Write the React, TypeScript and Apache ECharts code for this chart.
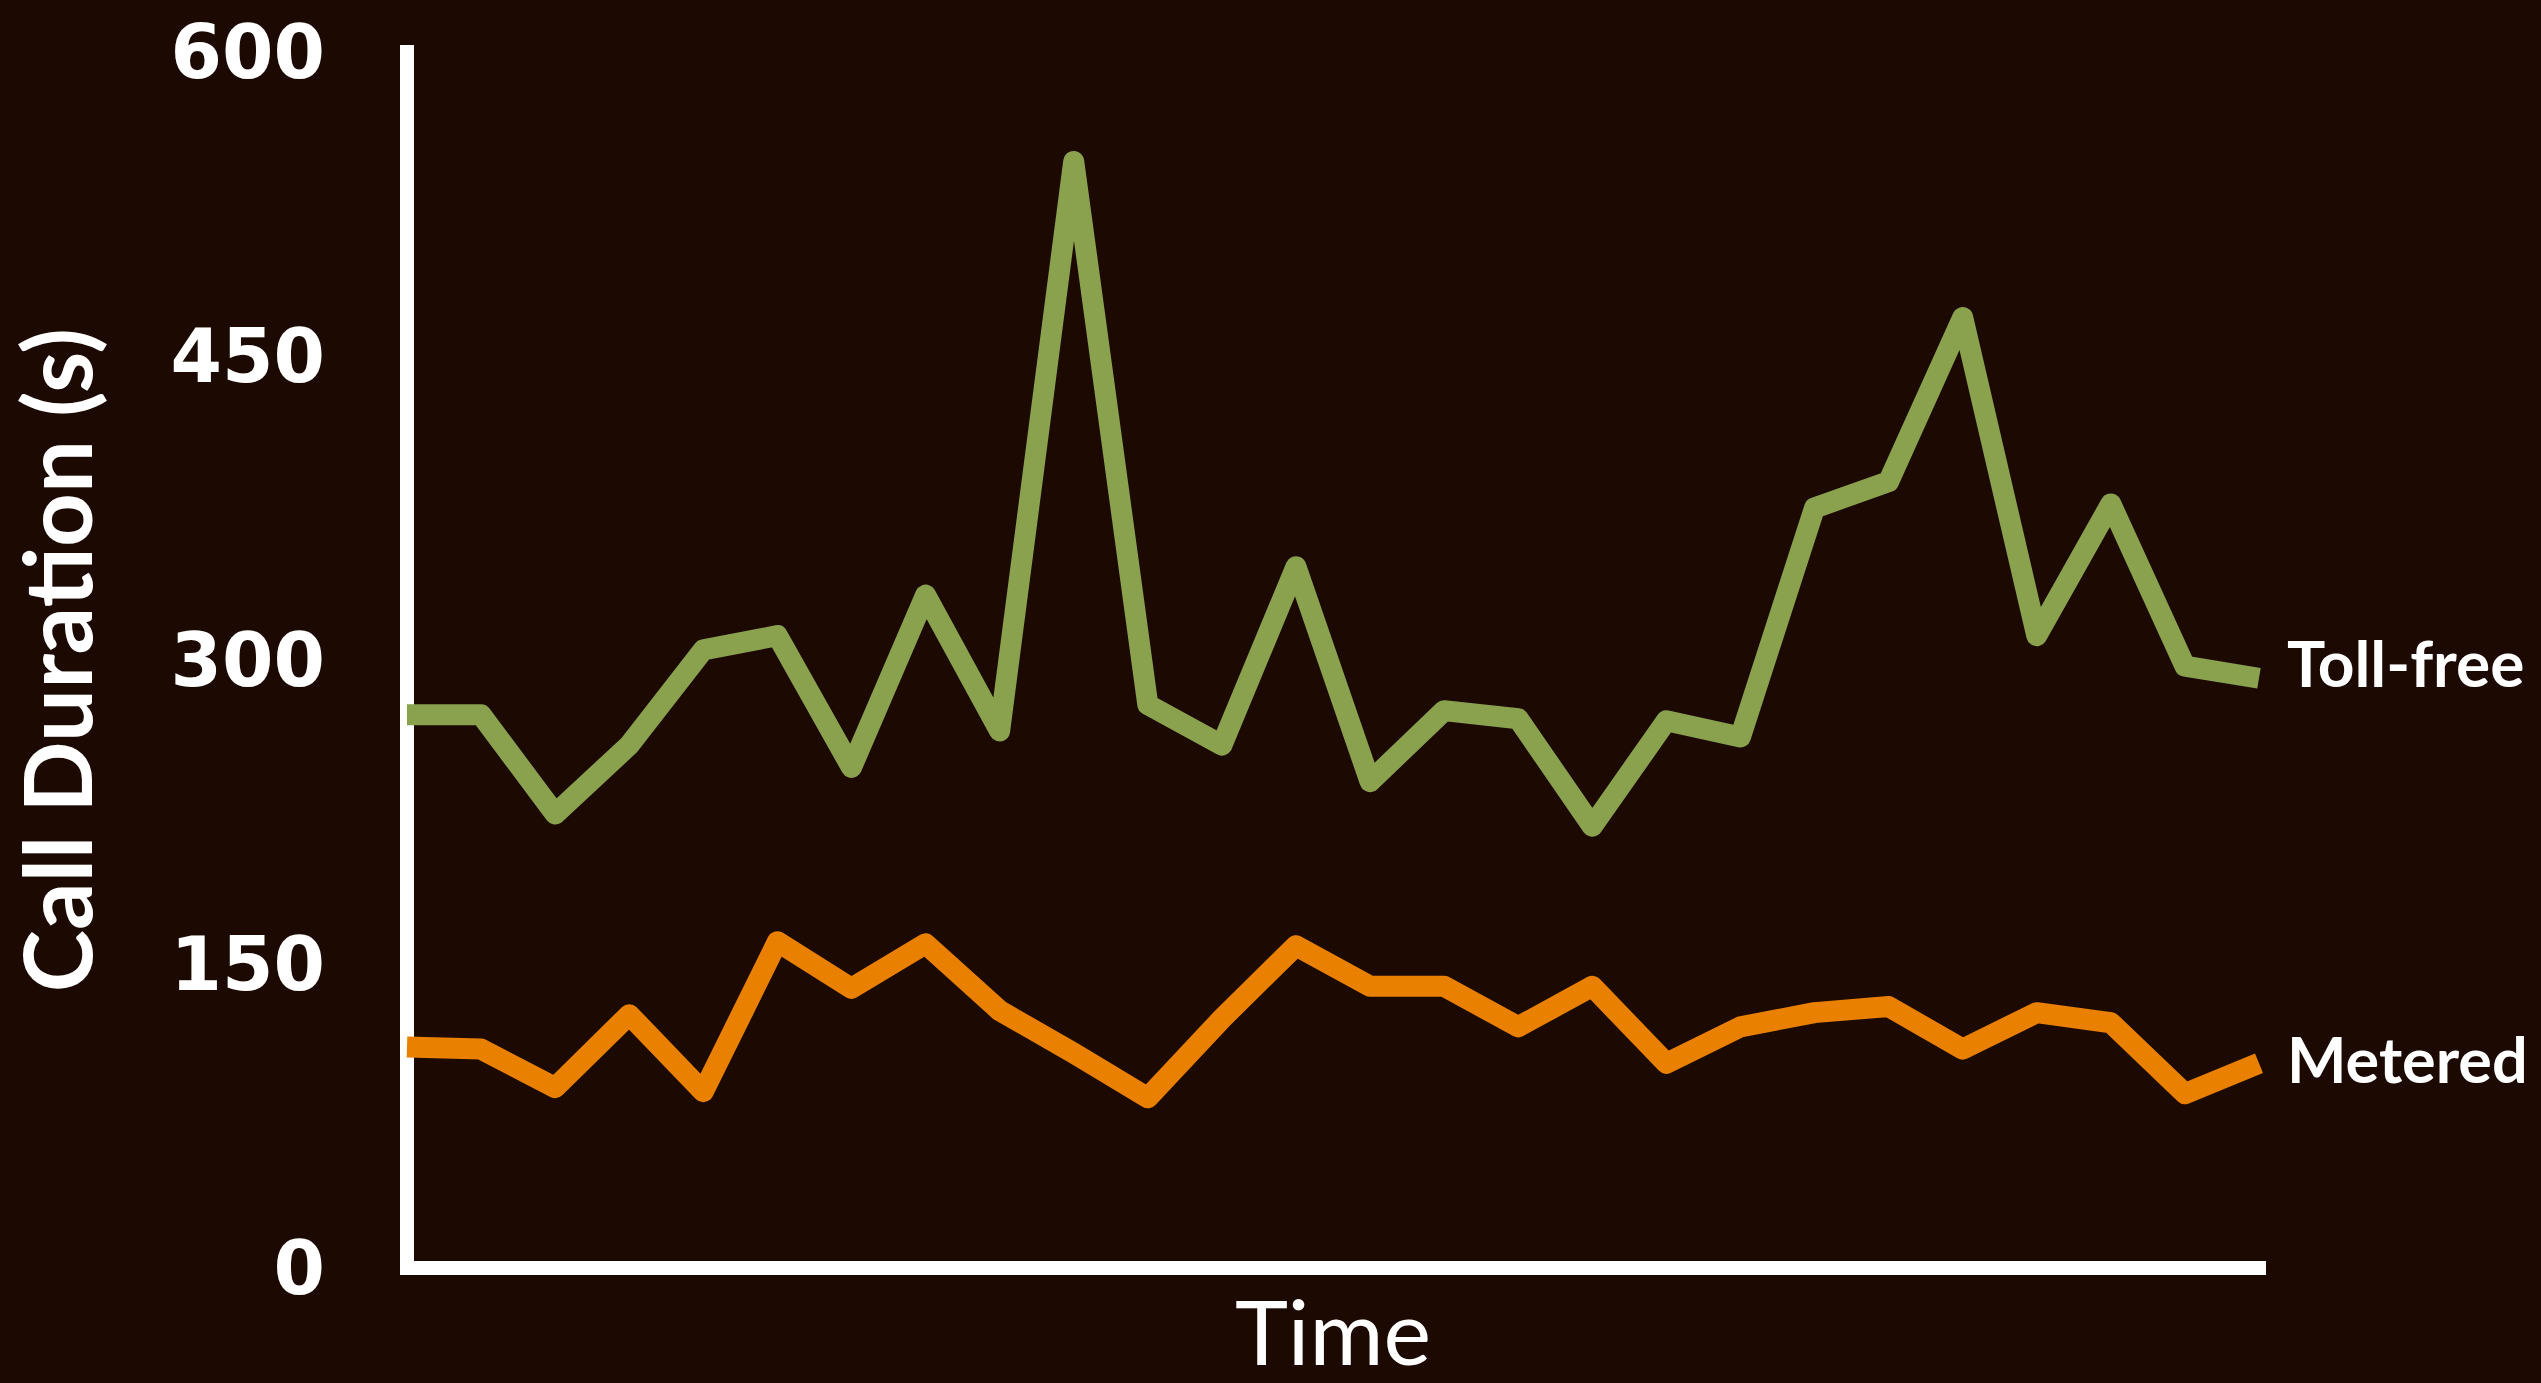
import React, { useEffect, useRef } from "react";
import * as echarts from "echarts";

const categories = [
  "1", "2", "3", "4", "5", "6", "7", "8", "9", "10", "11", "12", "13",
  "14", "15", "16", "17", "18", "19", "20", "21", "22", "23", "24", "25", "26",
];

const tollFree = [
  273, 273, 224, 258, 305, 312, 247, 332, 265, 546, 278, 258, 346,
  240, 275, 271, 218, 270, 262, 375, 388, 469, 312, 377, 297, 291,
];

const metered = [
  109, 108, 89, 125, 87, 161, 138, 160, 127, 106, 84, 123, 159,
  139, 139, 119, 139, 101, 119, 126, 129, 108, 126, 121, 86, 101,
];

const yTicks = { min: 0, max: 600, interval: 150 };

const BG = "#1c0a02";
const GREEN = "#8aa14e";
const ORANGE = "#e98000";

export default function App() {
  const ref = useRef<HTMLDivElement>(null);

  useEffect(() => {
    document.body.style.margin = "0";
    document.body.style.background = BG;
    if (!ref.current) return;
    const chart = echarts.init(ref.current, undefined, { renderer: "svg" });
    chart.setOption({
      animation: false,
      backgroundColor: BG,
      grid: { left: 405, right: 282, top: 52, bottom: 115, containLabel: false },
      xAxis: {
        type: "category",
        data: categories,
        boundaryGap: false,
        name: "Time",
        nameLocation: "middle",
        nameGap: 62,
        nameTextStyle: {
          color: "#ffffff",
          fontFamily: "Lato",
          fontSize: 90,
          lineHeight: 70,
          fontWeight: "normal",
          verticalAlign: "middle",
        },
        axisLine: { show: true, lineStyle: { color: "#ffffff", width: 14, cap: "square" } },
        axisTick: { show: false },
        axisLabel: { show: false },
        splitLine: { show: false },
      },
      yAxis: {
        type: "value",
        min: yTicks.min,
        max: yTicks.max,
        interval: yTicks.interval,
        name: "Call Duration (s)",
        nameLocation: "middle",
        nameGap: 305,
        nameTextStyle: {
          color: "#ffffff",
          fontFamily: "Lato",
          fontSize: 94,
          fontWeight: "bold",
        },
        axisLine: { show: true, lineStyle: { color: "#ffffff", width: 14, cap: "square" } },
        axisTick: { show: false },
        splitLine: { show: false },
        axisLabel: {
          color: "#ffffff",
          fontFamily: "DejaVu Sans",
          fontWeight: "bold",
          fontSize: 74,
          margin: 82,
        },
      },
      series: [
        {
          name: "Toll-free",
          type: "line",
          data: tollFree,
          showSymbol: false,
          symbol: "none",
          lineStyle: { color: GREEN, width: 21, join: "round", cap: "butt" },
          itemStyle: { color: GREEN },
          endLabel: {
            show: true,
            formatter: "{a}",
            color: "#ffffff",
            fontFamily: "Lato",
            fontWeight: "bold",
            fontSize: 64,
            distance: 28,
            offset: [0, -16],
          },
          z: 3,
        },
        {
          name: "Metered",
          type: "line",
          data: metered,
          showSymbol: false,
          symbol: "none",
          lineStyle: { color: ORANGE, width: 21, join: "round", cap: "butt" },
          itemStyle: { color: ORANGE },
          endLabel: {
            show: true,
            formatter: "{a}",
            color: "#ffffff",
            fontFamily: "Lato",
            fontWeight: "bold",
            fontSize: 63,
            distance: 28,
            offset: [0, -5],
          },
          z: 3,
        },
      ],
    });
    return () => chart.dispose();
  }, []);

  return <div ref={ref} style={{ width: 2541, height: 1383 }} />;
}
